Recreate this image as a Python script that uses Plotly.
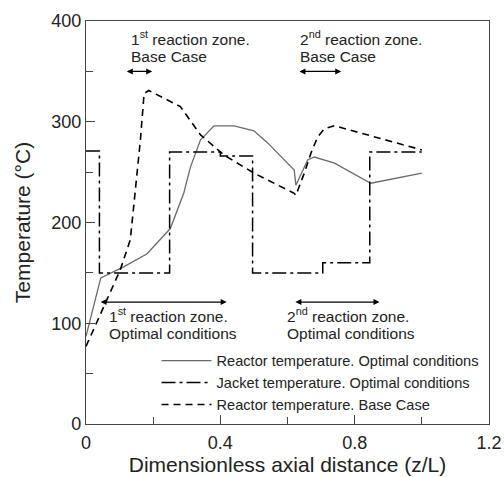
import plotly.graph_objects as go

# Reactor temperature, optimal conditions (solid grey)
x_opt = [0.0, 0.044, 0.112, 0.182, 0.251, 0.291, 0.311, 0.341, 0.381, 0.441, 0.50, 0.541, 0.62, 0.625, 0.66, 0.68, 0.74, 0.848, 1.0]
t_opt = [87, 145, 156, 169, 194, 229, 255, 282, 296, 296, 291, 279, 252, 237, 262, 265, 259, 239, 249]

# Jacket temperature, optimal conditions (dash-dot)
x_jac = [0.0, 0.040, 0.040, 0.249, 0.249, 0.40, 0.40, 0.496, 0.496, 0.705, 0.705, 0.845, 0.845, 1.0]
t_jac = [271, 271, 150, 150, 270, 270, 266, 266, 150, 150, 160, 160, 270, 270]

# Reactor temperature, base case (dashed)
x_base = [0.0, 0.052, 0.102, 0.132, 0.162, 0.173, 0.187, 0.281, 0.341, 0.411, 0.50, 0.62, 0.625, 0.65, 0.67, 0.69, 0.71, 0.74, 1.0]
t_base = [77, 116, 153, 183, 282, 328, 331, 315, 287, 267, 249, 229, 227, 249, 269, 285, 293, 296, 272]

# Annotation arrows (zone extents)
zones_top = [(0.117, 0.197), (0.631, 0.760)]
zones_bottom = [(0.039, 0.419), (0.619, 0.874)]

fig = go.Figure()
fig.add_trace(go.Scatter(x=x_opt, y=t_opt, mode="lines", name="Reactor temperature. Optimal conditions",
                         line=dict(color="#6a6a6a", width=1.3)))
fig.add_trace(go.Scatter(x=x_jac, y=t_jac, mode="lines", name="Jacket temperature. Optimal conditions",
                         line=dict(color="black", width=1.5, dash="14px,4px,3px,4px")))
fig.add_trace(go.Scatter(x=x_base, y=t_base, mode="lines", name="Reactor temperature. Base Case",
                         line=dict(color="black", width=1.6, dash="7px,5px")))

font_fam = "Liberation Sans, Arial, sans-serif"

# arrows
for (a, b), yv in [(zones_top[0], 350), (zones_top[1], 350), (zones_bottom[0], 121), (zones_bottom[1], 121)]:
    fig.add_annotation(x=b, y=yv, ax=a, ay=yv, xref="x", yref="y", axref="x", ayref="y",
                       text="", showarrow=True, arrowhead=2, startarrowhead=2, arrowside="end+start",
                       arrowwidth=1.2, arrowsize=1.0, startarrowsize=1.0, arrowcolor="black")

texts = [
    (0.129, 383, "1<sup>st</sup> reaction zone."),
    (0.129, 365, "Base Case"),
    (0.632, 383, "2<sup>nd</sup> reaction zone."),
    (0.632, 365, "Base Case"),
    (0.063, 108, "1<sup>st</sup> reaction zone."),
    (0.063, 90, "Optimal conditions"),
    (0.592, 108, "2<sup>nd</sup> reaction zone."),
    (0.592, 90, "Optimal conditions"),
]
for xv, yv, t in texts:
    fig.add_annotation(x=xv, y=yv, xref="x", yref="y", text=t, showarrow=False, xanchor="left", yanchor="middle",
                       align="left", font=dict(family=font_fam, size=15.5, color="#222"))

fig.update_layout(
    width=504, height=477,
    margin=dict(l=86, r=15, t=21, b=53),
    plot_bgcolor="white", paper_bgcolor="white",
    font=dict(family=font_fam, color="#222"),
    showlegend=True,
    legend=dict(x=0.175, y=0.197, xanchor="left", yanchor="top", bgcolor="rgba(0,0,0,0)",
                font=dict(family=font_fam, size=14.6, color="#222"), tracegroupgap=0, itemwidth=50),
    xaxis=dict(range=[0, 1.2], dtick=0.4, tick0=0, ticks="inside", ticklen=9, tickcolor="#444",
               showline=True, linecolor="#444", linewidth=1.3, mirror=True, showgrid=False, zeroline=False,
               tickfont=dict(size=18, family=font_fam), tickformat="~g", ticklabelstandoff=2, automargin=False,
               minor=dict(dtick=0.2, tick0=0, ticks="inside", ticklen=7, tickcolor="#444", showgrid=False),
               title=dict(text="Dimensionless axial distance (z/L)", font=dict(size=21, family=font_fam), standoff=3)),
    yaxis=dict(range=[0, 400], dtick=100, tick0=0, ticks="inside", ticklen=9, tickcolor="#444",
               showline=True, linecolor="#444", linewidth=1.3, mirror=True, showgrid=False, zeroline=False,
               tickfont=dict(size=18, family=font_fam), automargin=False,
               minor=dict(dtick=50, tick0=0, ticks="inside", ticklen=7, tickcolor="#444", showgrid=False),
               title=dict(text="Temperature (°C)", font=dict(size=21, family=font_fam), standoff=14)),
)

fig.write_html("out.html")
